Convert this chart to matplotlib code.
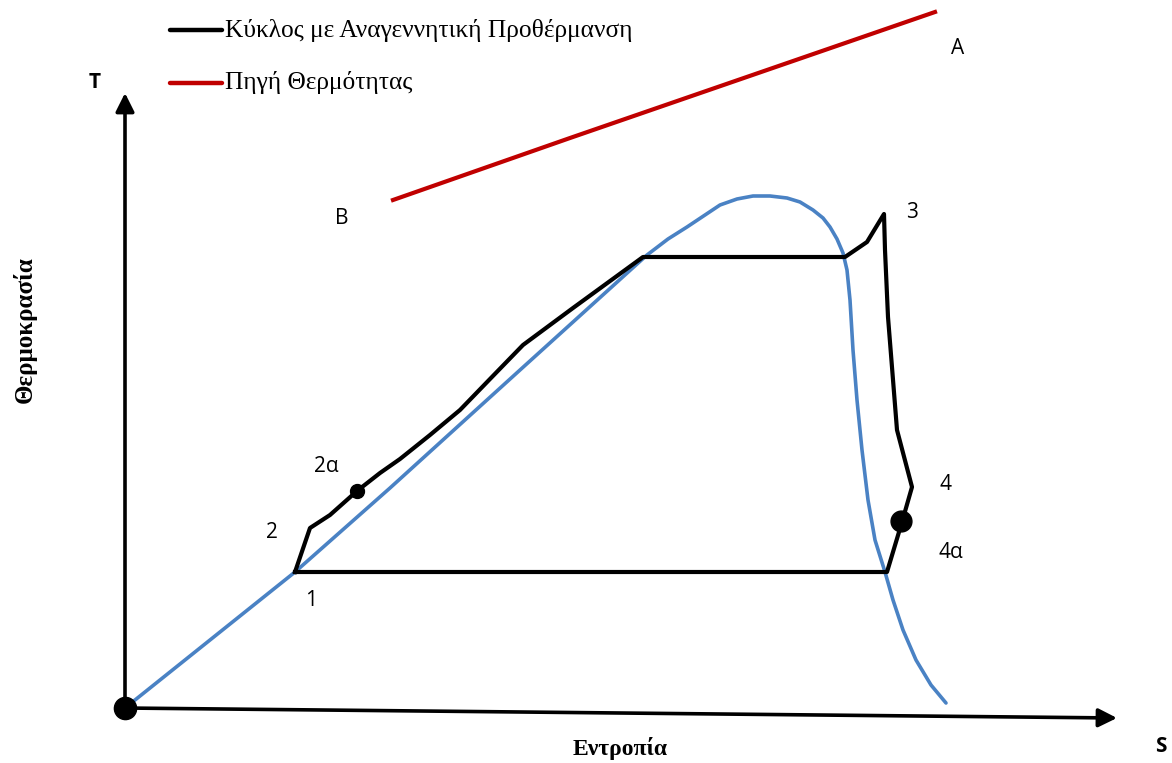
import matplotlib
matplotlib.use("Agg")
import matplotlib.pyplot as plt

# saturation dome (blue), in picture units
dome_s = [125, 200, 295, 390, 520, 647, 668, 687, 705, 720, 737, 753, 770, 787, 800, 813, 823, 830, 837,
          843, 847, 850, 853, 857, 862, 868, 875, 885, 893, 903, 916, 931, 946]
dome_T = [708, 648, 572, 488, 370, 255, 239, 227, 215, 205, 199, 196, 196, 198, 202, 210, 218, 227, 239,
          253, 270, 300, 350, 400, 450, 500, 540, 572, 600, 630, 660, 685, 703]

# regenerative cycle (black)
cycle_s = [295, 310, 330, 357, 380, 400, 430, 460, 490, 523, 573, 643, 845, 867, 884, 885, 888, 897, 912,
           902, 887, 295]
cycle_T = [572, 528, 515, 491, 473, 459, 435, 410, 379, 345, 308, 257, 257, 242, 214, 250, 317, 430, 487,
           522, 572, 572]

# heat source (red)
source_s = [393, 570, 935]
source_T = [200, 138, 12]

# marked points
dots_s = [125, 357, 901]
dots_T = [708, 491, 521]
dots_size = [16, 10, 15]

labels = ["A", "B", "3", "2α", "2", "1", "4", "4α"]
labels_s = [958, 342, 912, 326, 272, 311, 945, 951]
labels_T = [48, 218, 212, 466, 533, 600, 485, 553]

legend_names = ["Κύκλος με Αναγεννητική Προθέρμανση", "Πηγή Θερμότητας"]
legend_colors = ["black", "#c00000"]
legend_T = [30, 83]

fig = plt.figure(figsize=(11.72, 7.63), dpi=100)
ax = fig.add_axes([0, 0, 1, 1])
ax.set_xlim(0, 1172)
ax.set_ylim(763, 0)
ax.axis("off")

# axes with arrows
ax.annotate("", xy=(125, 93), xytext=(125, 710),
            arrowprops=dict(arrowstyle="-|>", lw=2.6, color="black", mutation_scale=28, shrinkA=0, shrinkB=0))
ax.annotate("", xy=(1117, 718), xytext=(123, 708),
            arrowprops=dict(arrowstyle="-|>", lw=2.6, color="black", mutation_scale=28, shrinkA=0, shrinkB=0))

ax.plot(dome_s, dome_T, color="#4a82c4", lw=2.6, solid_capstyle="round", solid_joinstyle="round", zorder=3)
ax.plot(cycle_s, cycle_T, color="black", lw=3.0, solid_joinstyle="round", zorder=4)
ax.plot(source_s, source_T, color="#c00000", lw=3.0, zorder=4)
for s, t, m in zip(dots_s, dots_T, dots_size):
    ax.plot(s, t, "o", color="black", ms=m, zorder=5)

for lab, s, t in zip(labels, labels_s, labels_T):
    ax.text(s, t, lab, fontsize=15, family="Open Sans", ha="center", va="center")

ax.text(95, 83, "T", fontsize=15, family="Open Sans", fontweight="bold", ha="center", va="center")
ax.text(1161, 746, "S", fontsize=15, family="Open Sans", fontweight="bold", ha="center", va="center")

for name, c, t in zip(legend_names, legend_colors, legend_T):
    ax.plot([170, 222], [t, t], color=c, lw=3.2, solid_capstyle="round")
    ax.text(225, t, name, fontsize=18.3, family="Liberation Serif", ha="left", va="center")

ax.text(620, 748, "Εντροπία", fontsize=17, family="Liberation Serif", fontweight="bold",
        ha="center", va="center")
ax.text(25, 330, "Θερμοκρασία", fontsize=18, family="Liberation Serif", fontweight="bold",
        ha="center", va="center", rotation=90)

fig.savefig("out.png", dpi=100)
